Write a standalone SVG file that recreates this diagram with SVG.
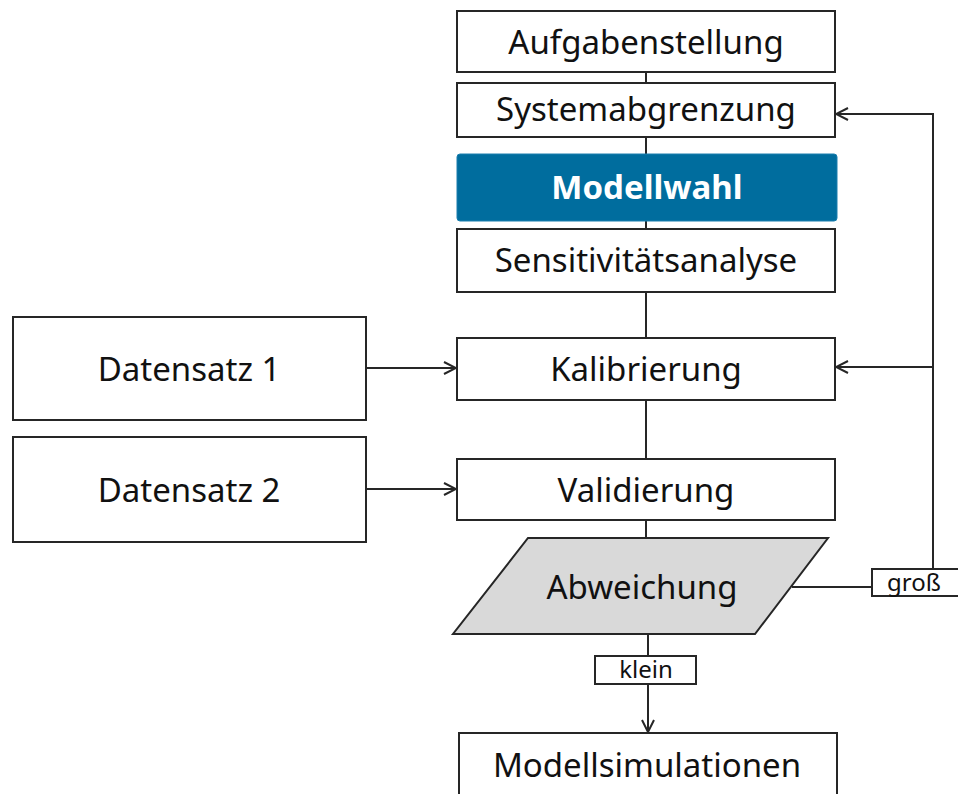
<svg xmlns="http://www.w3.org/2000/svg" width="958" height="794" viewBox="0 0 958 794">
<defs>
<style>
.box{fill:#fff;stroke:#262626;stroke-width:2}
.t{font-family:"Noto Sans","Open Sans",sans-serif;font-size:33px;fill:#111;text-anchor:middle}
.s{font-family:"Noto Sans","Open Sans",sans-serif;font-size:24px;fill:#111;text-anchor:middle}
.ln{fill:none;stroke:#262626;stroke-width:2}
</style>
<marker id="ah" viewBox="0 0 14 14" refX="13" refY="7" markerWidth="14" markerHeight="14" markerUnits="userSpaceOnUse" orient="auto">
<path d="M1,1 L13,7 L1,13" fill="none" stroke="#262626" stroke-width="2"/>
</marker>
</defs>
<rect width="958" height="794" fill="#fff"/>
<g id="connectors">
<line class="ln" x1="646" y1="72" x2="646" y2="83"/>
<line class="ln" x1="646" y1="137" x2="646" y2="154"/>
<line class="ln" x1="646" y1="221" x2="646" y2="229"/>
<line class="ln" x1="646" y1="292" x2="646" y2="338"/>
<line class="ln" x1="646" y1="400" x2="646" y2="459"/>
<line class="ln" x1="646" y1="520" x2="646" y2="538"/>
<line class="ln" x1="366" y1="368" x2="456" y2="368" marker-end="url(#ah)"/>
<line class="ln" x1="366" y1="489" x2="456" y2="489" marker-end="url(#ah)"/>
<line class="ln" x1="792" y1="587" x2="872" y2="587"/>
<polyline class="ln" points="933,569 933,114 836,114" marker-end="url(#ah)"/>
<line class="ln" x1="933" y1="367" x2="836" y2="367" marker-end="url(#ah)"/>
<line class="ln" x1="648" y1="634" x2="648" y2="656"/>
<line class="ln" x1="648" y1="684" x2="648" y2="732" marker-end="url(#ah)"/>
</g>
<g id="aufgabenstellung"><rect class="box" x="457" y="11" width="378" height="61"/><text class="t" x="646" y="54">Aufgabenstellung</text></g>
<g id="systemabgrenzung"><rect class="box" x="457" y="83" width="378" height="54"/><text class="t" x="646" y="121">Systemabgrenzung</text></g>
<g id="modellwahl"><rect x="457" y="154" width="380" height="67" rx="3" fill="#006d9e" stroke="#1a7fae" stroke-width="1"/><text class="t" x="647" y="199" style="fill:#fff;font-weight:bold">Modellwahl</text></g>
<g id="sensitivitaetsanalyse"><rect class="box" x="457" y="229" width="378" height="63"/><text class="t" x="646" y="272">Sensitivitätsanalyse</text></g>
<g id="datensatz1"><rect class="box" x="13" y="317" width="353" height="103"/><text class="t" x="189" y="381">Datensatz 1</text></g>
<g id="kalibrierung"><rect class="box" x="457" y="338" width="378" height="62"/><text class="t" x="646" y="381">Kalibrierung</text></g>
<g id="datensatz2"><rect class="box" x="13" y="437" width="353" height="105"/><text class="t" x="189" y="502">Datensatz 2</text></g>
<g id="validierung"><rect class="box" x="457" y="459" width="378" height="61"/><text class="t" x="646" y="502">Validierung</text></g>
<g id="abweichung"><polygon points="528,538 828,538 755,634 453,634" fill="#d9d9d9" stroke="#262626" stroke-width="2"/><text class="t" x="642" y="599">Abweichung</text></g>
<g id="gross"><rect class="box" x="872" y="569" width="90" height="27"/><text class="s" x="914" y="591">groß</text></g>
<g id="klein"><rect class="box" x="595" y="656" width="101" height="28"/><text class="s" x="646" y="678">klein</text></g>
<g id="modellsimulationen"><rect class="box" x="459" y="733" width="378" height="70"/><text class="t" x="647" y="777">Modellsimulationen</text></g>
</svg>
